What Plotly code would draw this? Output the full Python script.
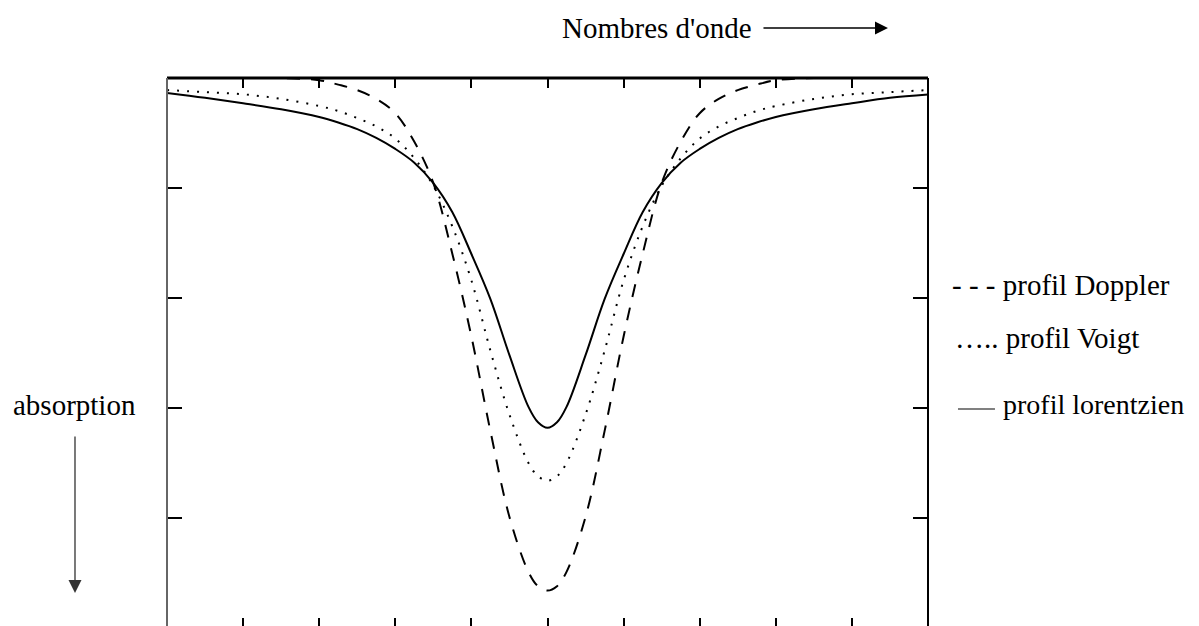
import plotly.graph_objects as go

# nombres d'onde (unités arbitraires, centre de la raie en 0)
x_onde = [-5, -4.5, -4, -3.5, -3, -2.75, -2.5, -2.25, -2, -1.75, -1.5, -1.25, -1,
          -0.75, -0.5, -0.25, -0.125, 0, 0.125, 0.25, 0.5, 0.75, 1, 1.25, 1.5,
          1.75, 2, 2.25, 2.5, 2.75, 3, 3.5, 4, 4.5, 5]

# absorption (vers le bas)
doppler = [0, 0, 0, 0, 0.02, 0.06, 0.11, 0.19, 0.32, 0.58, 0.955, 1.6, 2.35,
           3.21, 3.99, 4.49, 4.62, 4.66, 4.62, 4.49, 3.99, 3.21, 2.35, 1.6, 0.955,
           0.58, 0.32, 0.19, 0.11, 0.06, 0.02, 0, 0, 0, 0]
voigt = [0.11, 0.128, 0.148, 0.19, 0.255, 0.30, 0.364, 0.44, 0.55, 0.73, 0.98, 1.35, 1.84,
         2.48, 3.06, 3.50, 3.62, 3.66, 3.62, 3.50, 3.06, 2.48, 1.84, 1.35, 0.98,
         0.73, 0.55, 0.44, 0.364, 0.30, 0.255, 0.19, 0.148, 0.128, 0.11]
lorentz = [0.136, 0.18, 0.23, 0.285, 0.355, 0.405, 0.465, 0.545, 0.645, 0.77, 0.955, 1.22, 1.60,
           2.01, 2.52, 2.99, 3.13, 3.18, 3.13, 2.99, 2.52, 2.01, 1.60, 1.22, 0.955,
           0.77, 0.645, 0.545, 0.465, 0.405, 0.355, 0.285, 0.23, 0.18, 0.15]

x_ticks = [-5, -4, -3, -2, -1, 0, 1, 2, 3, 4, 5]
y_ticks = [1, 2, 3, 4]

serif = "Liberation Serif, Times New Roman, serif"

fig = go.Figure()
fig.add_trace(go.Scatter(x=x_onde, y=doppler, mode="lines", line_shape="spline",
                         line=dict(color="black", width=2, dash="13px,11px")))
fig.add_trace(go.Scatter(x=x_onde, y=voigt, mode="lines", line_shape="spline",
                         line=dict(color="black", width=2, dash="2px,8px")))
fig.add_trace(go.Scatter(x=x_onde, y=lorentz, mode="lines", line_shape="spline",
                         line=dict(color="black", width=2)))

# cadre : haut et droite noirs, gauche gris
fig.add_shape(type="line", xref="paper", yref="paper", x0=0, x1=1, y0=1, y1=1,
              line=dict(color="black", width=3), layer="above")
fig.add_shape(type="line", xref="paper", yref="paper", x0=0, x1=0, y0=0, y1=1,
              line=dict(color="#666666", width=2), layer="above")
fig.add_shape(type="line", xref="paper", yref="paper", x0=1, x1=1, y0=0, y1=1,
              line=dict(color="black", width=2), layer="above")
# trait gris de la légende "profil lorentzien"
fig.add_shape(type="line", xref="paper", yref="paper", x0=1.0394, x1=1.0880,
              y0=0.3982, y1=0.3982, line=dict(color="#808080", width=2))

big = dict(family=serif, size=29, color="black")
fig.add_annotation(text="Nombres d'onde", xref="paper", yref="paper", x=0.517, y=1.091,
                   xanchor="left", yanchor="middle", showarrow=False, font=big)
fig.add_annotation(text="", xref="paper", yref="paper", x=0.9474, y=1.0909,
                   ax=-126, ay=0, showarrow=True, arrowhead=2, arrowsize=2,
                   arrowwidth=1.3, arrowcolor="black")
fig.add_annotation(text="absorption", xref="paper", yref="paper", x=-0.2050, y=0.4055,
                   xanchor="left", yanchor="middle", showarrow=False, font=big)
fig.add_annotation(text="", xref="paper", yref="paper", x=-0.1209, y=0.0636,
                   ax=0, ay=-158, showarrow=True, arrowhead=2, arrowsize=2,
                   arrowwidth=1.3, arrowcolor="#333333")
fig.add_annotation(text="- - - profil Doppler", xref="paper", yref="paper", x=1.0290, y=0.6236,
                   xanchor="left", yanchor="middle", showarrow=False, font=big)
fig.add_annotation(text="….. profil Voigt", xref="paper", yref="paper", x=1.0330, y=0.5273,
                   xanchor="left", yanchor="middle", showarrow=False, font=big)
fig.add_annotation(text="profil lorentzien", xref="paper", yref="paper", x=1.0960, y=0.4055,
                   xanchor="left", yanchor="middle", showarrow=False,
                   font=dict(family=serif, size=28, color="black"))

fig.update_xaxes(range=[-5, 5], tickvals=x_ticks, showticklabels=False, ticks="inside",
                 ticklen=10, tickwidth=2, tickcolor="black", mirror="ticks", showline=True,
                 linecolor="rgba(0,0,0,0)", showgrid=False, zeroline=False)
fig.update_yaxes(range=[5, 0], tickvals=y_ticks, showticklabels=False, ticks="inside",
                 ticklen=15, tickwidth=2, tickcolor="black", mirror="ticks", showline=True,
                 linecolor="rgba(0,0,0,0)", showgrid=False, zeroline=False)
# la page ajoute une marge de 8 px autour de la figure
fig.update_layout(width=1199, height=626, showlegend=False,
                  margin=dict(l=159, r=279, t=70, b=6),
                  plot_bgcolor="white", paper_bgcolor="white")
fig.write_html("out.html")
